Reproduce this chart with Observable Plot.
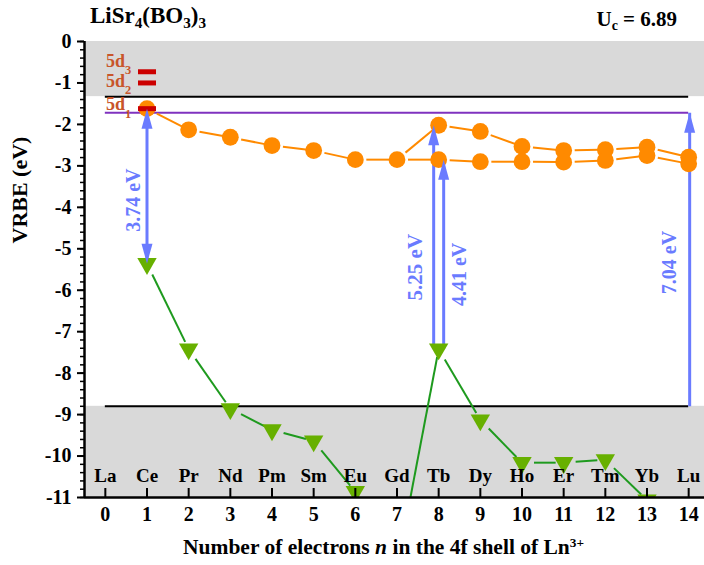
<!DOCTYPE html>
<html><head><meta charset="utf-8">
<script src="https://cdn.jsdelivr.net/npm/d3@7"></script>
<script src="https://cdn.jsdelivr.net/npm/@observablehq/plot@0.6"></script>
<style>
body{margin:0;background:#fff;}
#wrap{position:relative;width:704px;height:565px;font-family:"Liberation Serif","Times New Roman",serif;font-weight:bold;color:#000;}
.lbl{position:absolute;white-space:nowrap;line-height:1;}
.lbl sub{font-size:0.66em;vertical-align:-0.32em;line-height:0;}
.lbl sup{font-size:0.62em;vertical-align:0.55em;line-height:0;}
#chart svg{display:block;}
</style></head><body>
<div id="wrap">
<div id="chart"></div>
<div class="lbl" style="left:90px;top:4px;font-size:23px">LiSr<sub>4</sub>(BO<sub>3</sub>)<sub>3</sub></div>
<div class="lbl" style="right:27px;top:9px;font-size:21px">U<sub>c</sub> = 6.89</div>
<div class="lbl" style="left:183px;top:537px;font-size:21.5px">Number of electrons <i>n</i> in the 4f shell of Ln<sup>3+</sup></div>
</div>
<script>
// ---- data ----
const nValues = [0,1,2,3,4,5,6,7,8,9,10,11,12,13,14];
const elements = ["La","Ce","Pr","Nd","Pm","Sm","Eu","Gd","Tb","Dy","Ho","Er","Tm","Yb","Lu"];
// Ln3+ 4f ground state (green triangles)
const ln3Ground = [null,-5.36,-7.42,-8.86,-9.37,-9.64,-10.86,-12.7,-7.42,-9.13,-10.16,-10.16,-10.09,-11.06,null];
// lowest 5d levels (orange circles), upper branch and lower branch
const fdUpper = [null,-1.62,-2.13,-2.31,-2.51,-2.63,-2.85,-2.85,-2.02,-2.17,-2.53,-2.63,-2.61,-2.55,-2.79];
const fdLower = [null,null,null,null,null,null,null,null,-2.85,-2.90,-2.90,-2.91,-2.87,-2.75,-2.95];
// Ce3+ 5d levels
const ce5dNames = ["1","2","3"];
const ce5dLevels = [-1.62,-1.00,-0.73];
// band edges
const conductionBottom = -1.33;
const excitonLevel = -1.72;
const valenceTop = -8.80;
// tick values
const yMajor = [0,-1,-2,-3,-4,-5,-6,-7,-8,-9,-10,-11];
const yMinor = d3.range(0,56).map(i => -i/5);
// arrows (energy differences)
const arrowLabels = ["3.74 eV","5.25 eV","4.41 eV","7.04 eV"];
const arrowN = [1,8,8,14];
const arrowFrom = [ln3Ground[1], ln3Ground[8], ln3Ground[8], valenceTop];
const arrowTo = [fdUpper[1], fdUpper[8], fdLower[8], excitonLevel];

// ---- styles ----
const orange = "#ff8a00", green = "#1e9a1e", greenFill = "#67b000", blue = "#6a7bff", purple = "#7f32bf", red = "#cc0000", brown = "#c8552a";
const xDomain = [-0.5, 14.38], yDomain = [-11, 0];

function segments(vals) {
  const s = [];
  for (let i = 0; i < vals.length - 1; i++)
    if (vals[i] != null && vals[i+1] != null) s.push({x1: i, y1: vals[i], x2: i+1, y2: vals[i+1]});
  return s;
}
const lowerLine = nValues.map(i => i === 7 ? fdUpper[7] : fdLower[i]);
const arrows = arrowN.map((n, i) => ({n, from: arrowFrom[i], to: arrowTo[i], label: arrowLabels[i]}));
const levels = ce5dLevels.map((e, i) => ({n: 1, e, sub: ce5dNames[i]}));

const headUp = {draw(ctx) { ctx.moveTo(0, 0); ctx.lineTo(5.5, 20); ctx.lineTo(-5.5, 20); ctx.closePath(); }};
const hbar = {draw(ctx) { ctx.rect(-9, -2.5, 18, 5); }};

function arrowShaft(a, {dx = 0}) {
  return Plot.link([a], {x1: "n", x2: "n", y1: "from", y2: "to", dx, stroke: blue, strokeWidth: 3});
}
function arrowHeads(a, {dx = 0, both = false}) {
  const m = [Plot.dot([a], {x: "n", y: "to", symbol: headUp, dx, fill: blue, stroke: "none"})];
  if (both) m.push(Plot.dot([a], {x: "n", y: "from", symbol: headUp, rotate: 180, dx, fill: blue, stroke: "none"}));
  return m;
}
function arrowText(a, {tdx = 0, tdy = 0, fs = 20}) {
  return Plot.text([a], {x: "n", y: d => (d.from + d.to) / 2, text: "label", rotate: -90, dx: tdx, dy: tdy, fill: blue, fontSize: fs, fontWeight: "bold"});
}
const arrowStyle = [
  {dx: 0, both: true, tdx: -13, tdy: 14, fs: 20},
  {dx: -5, both: false, tdx: -23, tdy: 30, fs: 21},
  {dx: 5, both: false, tdx: 21, tdy: 20, fs: 20},
  {dx: 1, both: false, tdx: -19, tdy: 3, fs: 20}
];
const labelOffsets = [{dy: -4}, {dy: -2}, {dy: -11}];

const chart = Plot.plot({
  width: 704, height: 565,
  marginLeft: 84, marginRight: 0, marginTop: 41, marginBottom: 68,
  x: {domain: xDomain, label: null},
  y: {domain: yDomain, label: null},
  style: {fontFamily: '"Liberation Serif","Times New Roman",serif', fontWeight: "bold", fontSize: "18px", background: "white", color: "black"},
  marks: [
    Plot.rect([{y1: conductionBottom, y2: 0}, {y1: yDomain[0], y2: valenceTop}], {y1: "y1", y2: "y2", fill: "#d9d9d9"}),
    Plot.ruleY([conductionBottom, valenceTop], {x1: 0, x2: 14, stroke: "black", strokeWidth: 2}),
    Plot.ruleY([excitonLevel], {x1: 0, x2: 14, stroke: purple, strokeWidth: 2}),
    Plot.arrow(segments(fdUpper), {x1: "x1", y1: "y1", x2: "x2", y2: "y2", stroke: orange, strokeWidth: 2, headLength: 0, insetStart: 11, insetEnd: 6, strokeLinecap: "butt"}),
    Plot.arrow(segments(lowerLine), {x1: "x1", y1: "y1", x2: "x2", y2: "y2", stroke: orange, strokeWidth: 2, headLength: 0, insetStart: 11, insetEnd: 6, strokeLinecap: "butt"}),
    Plot.arrow(segments(ln3Ground), {x1: "x1", y1: "y1", x2: "x2", y2: "y2", stroke: green, strokeWidth: 2, headLength: 0, insetStart: 12, insetEnd: 8, strokeLinecap: "butt", clip: true}),
    ...arrows.map((a, i) => arrowShaft(a, arrowStyle[i])),
    Plot.dot(nValues.filter(i => fdUpper[i] != null), {x: d => d, y: d => fdUpper[d], r: 8.4, fill: orange, stroke: "none"}),
    Plot.dot(nValues.filter(i => fdLower[i] != null), {x: d => d, y: d => fdLower[d], r: 8.4, fill: orange, stroke: "none"}),
    Plot.dot(nValues.filter(i => ln3Ground[i] != null), {x: d => d, y: d => ln3Ground[d], symbol: "triangle", rotate: 180, r: 7.2, fill: greenFill, stroke: "none", clip: true}),
    Plot.dot(levels, {x: "n", y: "e", symbol: hbar, fill: red, stroke: "none"}),
    ...arrows.flatMap((a, i) => arrowHeads(a, arrowStyle[i])),
    ...arrows.map((a, i) => arrowText(a, arrowStyle[i])),
    ...levels.flatMap((l, i) => [
      Plot.text([l], {x: "n", y: "e", text: () => "5d", textAnchor: "end", dx: -22, dy: labelOffsets[i].dy, fill: brown, fontSize: 18}),
      Plot.text([l], {x: "n", y: "e", text: "sub", textAnchor: "start", dx: -22, dy: labelOffsets[i].dy + 9, fill: brown, fontSize: 12.5})
    ]),
    Plot.text(nValues, {x: d => d, text: d => elements[d], frameAnchor: "bottom", dy: -16, fontSize: 19}),
    Plot.text(["VRBE (eV)"], {frameAnchor: "left", dx: -65, dy: -26, rotate: -90, fontSize: 22}),
    Plot.axisY(yMinor, {tickSize: 4, tickFormat: () => "", strokeWidth: 1.5, label: null}),
    Plot.axisY(yMajor, {tickSize: 7, tickPadding: 6, tickFormat: d => String(d), strokeWidth: 2, fontSize: 20, label: null}),
    Plot.axisX(nValues, {tickSize: -9, tickPadding: 18, tickFormat: d => String(d), strokeWidth: 2, fontSize: 20, label: null}),
    Plot.ruleX([xDomain[0]], {stroke: "black", strokeWidth: 2.5}),
    Plot.ruleY([yDomain[0]], {stroke: "black", strokeWidth: 2.5})
  ]
});
document.getElementById("chart").appendChild(chart);
</script>
</body></html>
